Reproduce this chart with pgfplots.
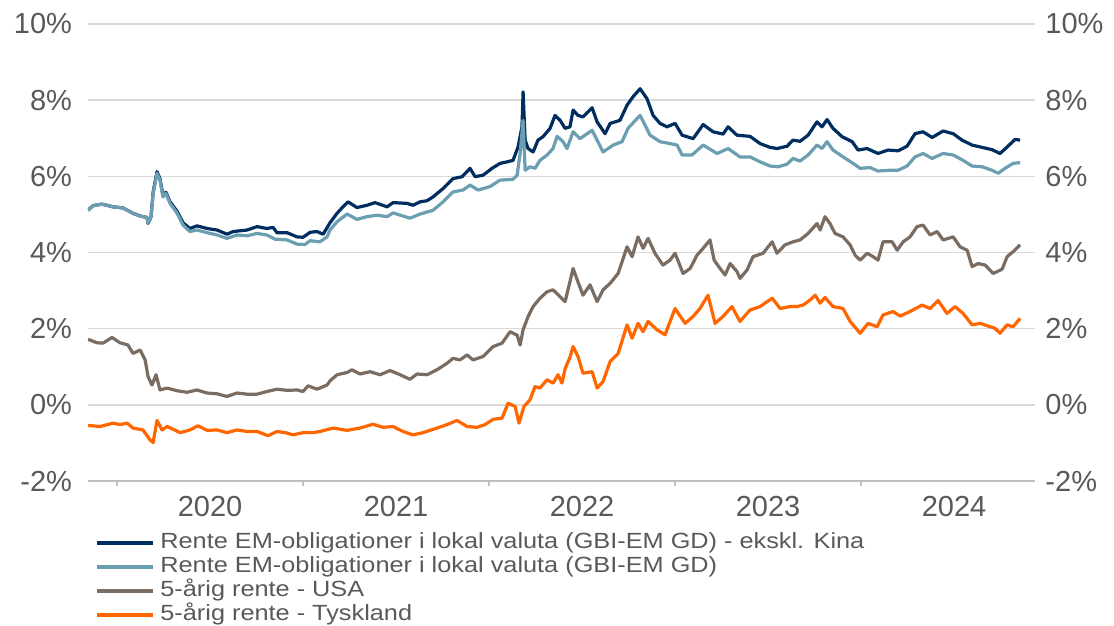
\documentclass[border=0pt]{standalone}
\usepackage{fontspec}
\setmainfont{Liberation Sans}
\newfontfamily\legfont[FakeStretch=1.15]{Liberation Sans}
\usepackage{pgfplots}
\pgfplotsset{compat=1.18}

\definecolor{emdark}{RGB}{0,45,95}
\definecolor{emlight}{RGB}{108,158,178}
\definecolor{usbrown}{RGB}{123,108,98}
\definecolor{deorange}{RGB}{255,102,0}
\definecolor{txtgray}{RGB}{89,89,89}
\definecolor{gridgray}{RGB}{217,217,217}
\definecolor{axisgray}{RGB}{191,191,191}

\pgfplotsset{
  base/.style={
    scale only axis, width=473.5pt, height=228.5pt,
    xmin=2019.844, xmax=2024.935, ymin=-2, ymax=10,
    ytick={-2,0,...,10},
    yticklabels={-2\%,0\%,2\%,4\%,6\%,8\%,10\%},
    tick label style={font=\fontsize{14.5}{16}\selectfont, text=txtgray},
    ytick style={draw=none},
    y axis line style={draw=none},
  }
}

\begin{document}
\begin{tikzpicture}
\begin{axis}[base,
  axis x line*=bottom, axis y line*=left,
  x axis line style={axisgray, line width=0.8pt},
  ymajorgrids, grid style={gridgray, line width=0.7pt},
  xtick={2020,2021,2022,2023,2024}, xticklabels={},
  xtick style={axisgray, line width=0.7pt},
  tick align=outside, major tick length=2.5pt,
  extra x ticks={2020.5,2021.5,2022.5,2023.5,2024.5},
  extra x tick labels={2020,2021,2022,2023,2024},
  extra x tick style={major tick length=0pt, xticklabel style={yshift=-4pt}},
  yticklabel style={xshift=-2pt},
  legend cell align=left,
  legend style={draw=none, fill=none, at={(0.0074,-0.109)}, anchor=north west,
    font=\legfont\fontsize{11}{13}\selectfont, text=txtgray,
    inner sep=0pt, row sep=0pt,
    nodes={inner sep=0pt, text height=8.5pt, text depth=3.5pt},
    /tikz/every odd column/.append style={column sep=2.5pt}},
  legend image code/.code={\draw[#1, line width=2pt] (0pt,0pt) -- (28pt,0pt);},
  every axis plot/.append style={line width=1.6pt, line join=round},
]
% EM ex China
\addplot[emdark] coordinates {
(2019.844,5.11) (2019.871,5.23) (2019.919,5.27) (2019.978,5.20) (2020.032,5.17) (2020.086,5.03)
(2020.124,4.96) (2020.161,4.92) (2020.167,4.76) (2020.183,4.94) (2020.194,5.58) (2020.215,6.12)
(2020.231,5.94) (2020.247,5.50) (2020.263,5.58) (2020.285,5.33) (2020.323,5.08) (2020.355,4.78)
(2020.392,4.63) (2020.430,4.70) (2020.484,4.63) (2020.538,4.59) (2020.591,4.48) (2020.624,4.55)
(2020.699,4.59) (2020.753,4.68) (2020.806,4.63) (2020.839,4.66) (2020.860,4.52) (2020.914,4.52)
(2020.968,4.41) (2021.000,4.40) (2021.038,4.53) (2021.075,4.55) (2021.108,4.48) (2021.145,4.78)
(2021.183,5.03) (2021.215,5.20) (2021.242,5.33) (2021.290,5.18) (2021.344,5.24) (2021.387,5.31)
(2021.452,5.20) (2021.484,5.31) (2021.559,5.29) (2021.591,5.24) (2021.629,5.33) (2021.667,5.36)
(2021.699,5.46) (2021.753,5.68) (2021.806,5.94) (2021.855,5.99) (2021.898,6.21) (2021.925,5.99)
(2021.968,6.03) (2022.016,6.21) (2022.059,6.34) (2022.097,6.38) (2022.129,6.42) (2022.156,6.77)
(2022.177,7.30) (2022.183,8.22) (2022.194,6.95) (2022.210,6.73) (2022.237,6.64) (2022.263,6.95)
(2022.290,7.04) (2022.328,7.26) (2022.355,7.60) (2022.382,7.47) (2022.409,7.26) (2022.435,7.30)
(2022.452,7.74) (2022.478,7.60) (2022.505,7.56) (2022.554,7.80) (2022.581,7.43) (2022.624,7.12)
(2022.651,7.39) (2022.704,7.47) (2022.742,7.87) (2022.774,8.09) (2022.812,8.30) (2022.849,8.04)
(2022.882,7.60) (2022.919,7.39) (2022.957,7.30) (2023.000,7.39) (2023.038,7.08) (2023.097,6.99)
(2023.151,7.36) (2023.204,7.17) (2023.258,7.11) (2023.285,7.30) (2023.333,7.08) (2023.403,7.05)
(2023.457,6.86) (2023.511,6.76) (2023.548,6.73) (2023.602,6.79) (2023.634,6.95) (2023.672,6.92)
(2023.715,7.08) (2023.763,7.43) (2023.790,7.30) (2023.817,7.49) (2023.849,7.26) (2023.898,7.04)
(2023.952,6.91) (2023.984,6.69) (2024.032,6.73) (2024.091,6.60) (2024.145,6.69) (2024.199,6.67)
(2024.247,6.79) (2024.290,7.12) (2024.333,7.17) (2024.382,7.02) (2024.441,7.19) (2024.495,7.12)
(2024.543,6.95) (2024.597,6.82) (2024.651,6.76) (2024.704,6.70) (2024.747,6.60) (2024.785,6.77)
(2024.828,6.97) (2024.855,6.95)
};
% EM total
\addplot[emlight] coordinates {
(2019.844,5.11) (2019.871,5.23) (2019.919,5.27) (2019.978,5.20) (2020.032,5.17) (2020.086,5.03)
(2020.124,4.96) (2020.161,4.92) (2020.167,4.76) (2020.183,4.94) (2020.194,5.55) (2020.215,6.08)
(2020.231,5.90) (2020.247,5.46) (2020.263,5.55) (2020.285,5.29) (2020.323,5.03) (2020.355,4.72)
(2020.392,4.55) (2020.430,4.59) (2020.484,4.52) (2020.538,4.46) (2020.591,4.37) (2020.645,4.46)
(2020.699,4.44) (2020.753,4.50) (2020.806,4.46) (2020.849,4.35) (2020.914,4.33) (2020.968,4.22)
(2021.011,4.21) (2021.038,4.31) (2021.091,4.28) (2021.129,4.41) (2021.145,4.59) (2021.183,4.81)
(2021.237,5.01) (2021.290,4.87) (2021.344,4.94) (2021.398,4.98) (2021.452,4.94) (2021.484,5.04)
(2021.575,4.90) (2021.629,5.01) (2021.699,5.11) (2021.753,5.33) (2021.806,5.59) (2021.860,5.64)
(2021.898,5.77) (2021.941,5.64) (2022.005,5.73) (2022.059,5.90) (2022.129,5.92) (2022.151,6.03)
(2022.167,6.60) (2022.183,7.47) (2022.194,6.16) (2022.220,6.25) (2022.247,6.21) (2022.274,6.42)
(2022.312,6.56) (2022.344,6.73) (2022.366,7.05) (2022.398,6.91) (2022.419,6.73) (2022.452,7.17)
(2022.489,6.99) (2022.554,7.21) (2022.613,6.64) (2022.667,6.82) (2022.715,6.91) (2022.747,7.26)
(2022.812,7.60) (2022.866,7.08) (2022.919,6.91) (2022.973,6.86) (2023.011,6.82) (2023.038,6.56)
(2023.091,6.56) (2023.151,6.82) (2023.226,6.60) (2023.285,6.73) (2023.349,6.51) (2023.403,6.51)
(2023.457,6.38) (2023.511,6.27) (2023.554,6.25) (2023.602,6.32) (2023.634,6.47) (2023.672,6.40)
(2023.715,6.56) (2023.763,6.82) (2023.790,6.73) (2023.817,6.91) (2023.849,6.69) (2023.903,6.51)
(2023.957,6.34) (2023.995,6.21) (2024.048,6.23) (2024.091,6.14) (2024.156,6.16) (2024.199,6.16)
(2024.247,6.27) (2024.290,6.51) (2024.333,6.60) (2024.382,6.47) (2024.441,6.60) (2024.495,6.56)
(2024.548,6.42) (2024.597,6.27) (2024.651,6.25) (2024.704,6.16) (2024.737,6.08) (2024.774,6.21)
(2024.817,6.34) (2024.855,6.36)
};
% USA 5y
\addplot[usbrown] coordinates {
(2019.844,1.72) (2019.892,1.63) (2019.925,1.62) (2019.973,1.77) (2020.016,1.63) (2020.059,1.57)
(2020.086,1.35) (2020.124,1.44) (2020.151,1.18) (2020.167,0.74) (2020.188,0.52) (2020.210,0.79)
(2020.231,0.39) (2020.269,0.44) (2020.323,0.37) (2020.376,0.33) (2020.430,0.39) (2020.484,0.31)
(2020.538,0.29) (2020.591,0.22) (2020.645,0.31) (2020.699,0.28) (2020.753,0.28) (2020.806,0.35)
(2020.860,0.41) (2020.914,0.38) (2020.968,0.39) (2021.000,0.35) (2021.027,0.50) (2021.075,0.41)
(2021.091,0.44) (2021.129,0.52) (2021.145,0.63) (2021.183,0.79) (2021.237,0.85) (2021.263,0.92)
(2021.306,0.81) (2021.360,0.87) (2021.414,0.79) (2021.468,0.90) (2021.522,0.79) (2021.575,0.67)
(2021.613,0.81) (2021.667,0.79) (2021.720,0.92) (2021.774,1.09) (2021.806,1.22) (2021.844,1.18)
(2021.882,1.31) (2021.914,1.18) (2021.968,1.27) (2022.022,1.53) (2022.070,1.62) (2022.113,1.92)
(2022.151,1.83) (2022.167,1.57) (2022.183,1.97) (2022.210,2.32) (2022.237,2.58) (2022.274,2.80)
(2022.312,2.97) (2022.344,3.02) (2022.382,2.84) (2022.409,2.71) (2022.452,3.58) (2022.478,3.23)
(2022.505,2.88) (2022.543,3.15) (2022.581,2.71) (2022.613,3.02) (2022.651,3.19) (2022.694,3.45)
(2022.742,4.15) (2022.769,3.89) (2022.801,4.41) (2022.828,4.11) (2022.855,4.37) (2022.892,3.98)
(2022.935,3.67) (2022.973,3.80) (2023.000,3.98) (2023.043,3.45) (2023.081,3.58) (2023.118,3.93)
(2023.151,4.11) (2023.188,4.33) (2023.210,3.80) (2023.242,3.58) (2023.269,3.41) (2023.296,3.71)
(2023.333,3.50) (2023.349,3.32) (2023.387,3.54) (2023.419,3.89) (2023.473,3.98) (2023.522,4.28)
(2023.548,3.98) (2023.591,4.20) (2023.634,4.28) (2023.672,4.33) (2023.715,4.50) (2023.763,4.76)
(2023.780,4.59) (2023.806,4.94) (2023.833,4.76) (2023.860,4.50) (2023.903,4.41) (2023.941,4.20)
(2023.968,3.93) (2023.995,3.80) (2024.032,3.98) (2024.065,3.89) (2024.091,3.80) (2024.118,4.28)
(2024.167,4.28) (2024.194,4.06) (2024.226,4.28) (2024.263,4.41) (2024.301,4.68) (2024.333,4.72)
(2024.371,4.46) (2024.409,4.55) (2024.441,4.33) (2024.495,4.41) (2024.532,4.15) (2024.570,4.06)
(2024.597,3.63) (2024.629,3.71) (2024.667,3.67) (2024.710,3.45) (2024.758,3.56) (2024.785,3.89)
(2024.817,4.02) (2024.855,4.20)
};
% Tyskland 5y
\addplot[deorange] coordinates {
(2019.844,-0.54) (2019.909,-0.57) (2019.978,-0.48) (2020.016,-0.52) (2020.054,-0.48) (2020.086,-0.61)
(2020.140,-0.66) (2020.177,-0.92) (2020.194,-0.99) (2020.215,-0.41) (2020.242,-0.66) (2020.269,-0.57)
(2020.301,-0.64) (2020.339,-0.73) (2020.392,-0.66) (2020.435,-0.55) (2020.484,-0.67) (2020.538,-0.66)
(2020.591,-0.73) (2020.645,-0.66) (2020.699,-0.70) (2020.753,-0.70) (2020.812,-0.81) (2020.860,-0.70)
(2020.914,-0.74) (2020.946,-0.79) (2021.000,-0.73) (2021.054,-0.73) (2021.091,-0.70) (2021.161,-0.61)
(2021.237,-0.67) (2021.306,-0.61) (2021.376,-0.51) (2021.430,-0.59) (2021.484,-0.57) (2021.538,-0.70)
(2021.591,-0.79) (2021.645,-0.73) (2021.720,-0.61) (2021.774,-0.52) (2021.828,-0.41) (2021.882,-0.57)
(2021.935,-0.59) (2021.978,-0.52) (2022.022,-0.38) (2022.070,-0.35) (2022.102,0.04) (2022.140,-0.04)
(2022.161,-0.48) (2022.188,-0.04) (2022.220,0.13) (2022.247,0.48) (2022.274,0.44) (2022.312,0.66)
(2022.344,0.57) (2022.371,0.79) (2022.392,0.57) (2022.409,0.95) (2022.435,1.25) (2022.452,1.53)
(2022.478,1.27) (2022.505,0.83) (2022.554,0.87) (2022.581,0.44) (2022.613,0.61) (2022.651,1.14)
(2022.694,1.35) (2022.742,2.10) (2022.769,1.75) (2022.801,2.14) (2022.828,1.92) (2022.855,2.19)
(2022.903,1.97) (2022.946,1.84) (2023.000,2.53) (2023.054,2.14) (2023.097,2.32) (2023.134,2.53)
(2023.177,2.88) (2023.215,2.14) (2023.258,2.32) (2023.306,2.58) (2023.349,2.19) (2023.403,2.49)
(2023.457,2.58) (2023.522,2.80) (2023.565,2.53) (2023.618,2.58) (2023.656,2.58) (2023.688,2.62)
(2023.726,2.75) (2023.753,2.88) (2023.780,2.67) (2023.806,2.82) (2023.849,2.58) (2023.903,2.53)
(2023.941,2.19) (2023.995,1.88) (2024.038,2.14) (2024.086,2.05) (2024.118,2.36) (2024.172,2.45)
(2024.210,2.33) (2024.263,2.45) (2024.328,2.62) (2024.371,2.53) (2024.414,2.74) (2024.462,2.40)
(2024.505,2.58) (2024.548,2.40) (2024.597,2.10) (2024.640,2.14) (2024.694,2.05) (2024.720,2.01)
(2024.747,1.88) (2024.785,2.10) (2024.817,2.05) (2024.855,2.27)
};
\legend{Rente EM-obligationer i lokal valuta (GBI-EM GD) - ekskl. Kina,
        Rente EM-obligationer i lokal valuta (GBI-EM GD),
        5-årig rente - USA,
        5-årig rente - Tyskland}
\end{axis}
% right-hand labels
\begin{axis}[base, hide x axis, axis y line*=right,
  yticklabel style={xshift=1.7pt}]
\end{axis}
\pgfresetboundingbox
\path[use as bounding box] (-44pt,-72.5pt) rectangle (513pt,240.5pt);
\end{tikzpicture}
\end{document}
